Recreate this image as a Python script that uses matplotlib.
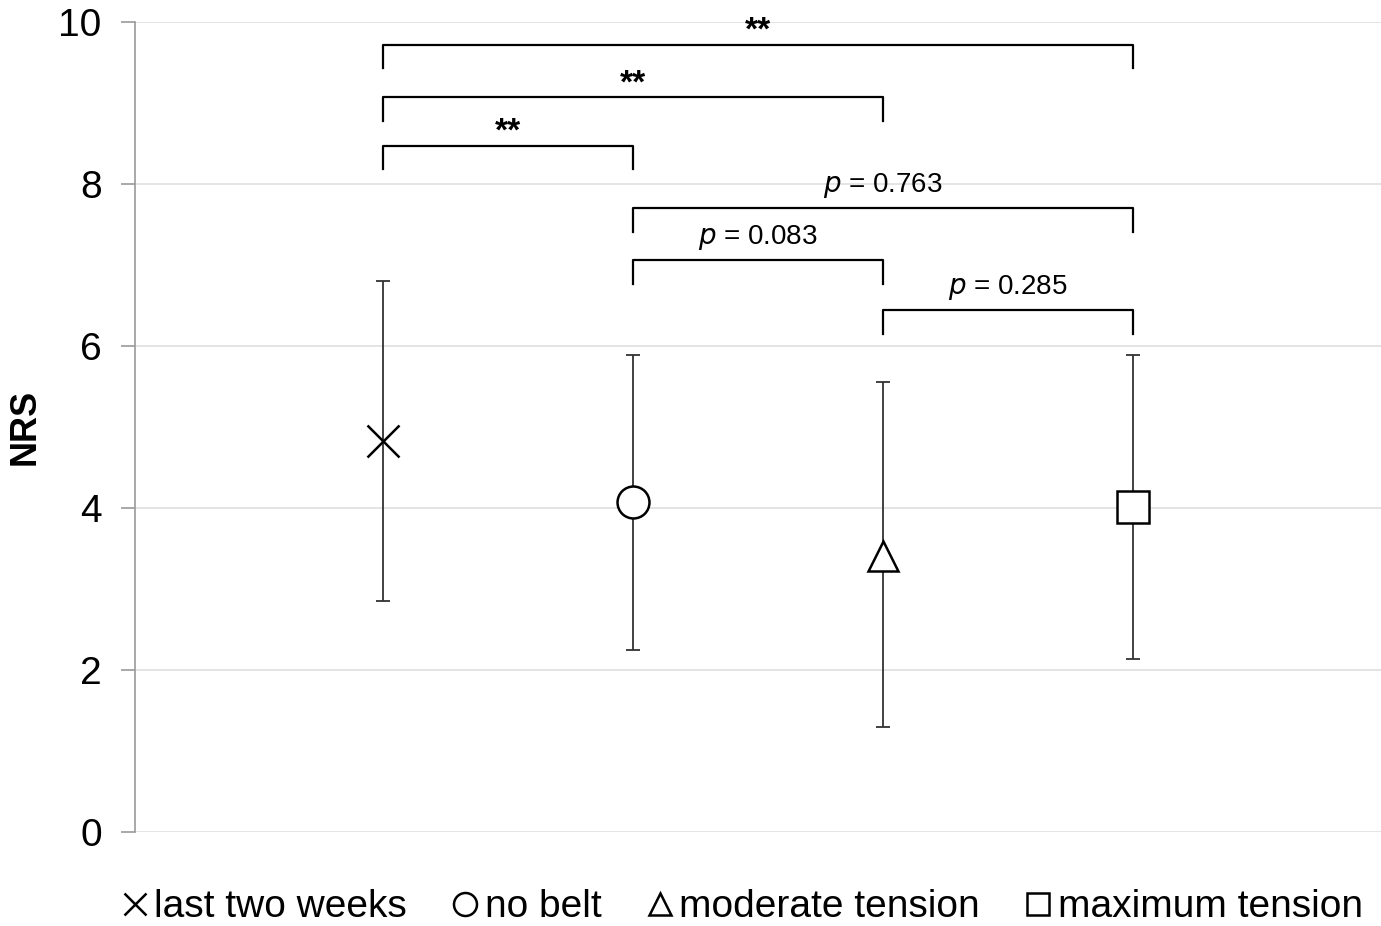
import numpy as np
import matplotlib.pyplot as plt

plt.rcParams['font.family'] = ['Liberation Sans', 'DejaVu Sans']

groups = ["last two weeks", "no belt", "moderate tension", "maximum tension"]
means = [4.83, 4.07, 3.41, 4.01]
upper = [6.80, 5.89, 5.56, 5.89]
lower = [2.85, 2.25, 1.30, 2.14]
markers = ["x", "o", "^", "s"]

# comparisons: (group a, group b, bracket height, label)
pairs = [(0, 3), (0, 2), (0, 1), (1, 3), (1, 2), (2, 3)]
bracket_y = [9.72, 9.07, 8.47, 7.70, 7.06, 6.44]
labels = ["**", "**", "**", "$\\it{p}$ = 0.763", "$\\it{p}$ = 0.083", "$\\it{p}$ = 0.285"]

fig = plt.figure(figsize=(13.81, 9.26), dpi=100)
ax = fig.add_axes([0.0978, 0.1015, 0.905, 0.8747])

x = np.arange(1, len(groups) + 1)
for i in range(len(groups)):
    yerr = [[means[i] - lower[i]], [upper[i] - means[i]]]
    ax.errorbar(x[i], means[i], yerr=yerr, fmt="none", ecolor="#333333",
                elinewidth=1.3, capsize=5, capthick=1.3, zorder=2)
    ms = 23 if markers[i] != "^" else 22
    ax.plot(x[i], means[i], marker=markers[i], markersize=ms, mfc="white",
            mec="black", mew=1.8, linestyle="none", label=groups[i], zorder=3)

leg_h = 0.29
for (a, b), h, lab in zip(pairs, bracket_y, labels):
    xa, xb = x[a], x[b]
    ax.plot([xa, xa, xb, xb], [h - leg_h, h, h, h - leg_h], color="black", lw=1.6,
            zorder=2)
    if lab.startswith("*"):
        ax.text((xa + xb) / 2, h + 0.17, lab, ha="center", va="center", fontsize=24,
                fontweight="bold")
    else:
        ax.text((xa + xb) / 2, h + 0.1, lab, ha="center", va="bottom", fontsize=20)

ax.set_xlim(0.008, 5.008)
ax.set_ylim(0, 10)
ax.set_yticks([0, 2, 4, 6, 8, 10])
ax.tick_params(axis="y", labelsize=28, length=10, color="#999999", width=1.2, pad=14)
ax.set_xticks([])
ax.grid(axis="y", color="#dcdcdc", lw=1.1)
ax.set_axisbelow(True)
for s in ["top", "right", "bottom"]:
    ax.spines[s].set_visible(False)
ax.spines["left"].set_color("#999999")
ax.spines["left"].set_linewidth(1.2)
ax.set_ylabel("NRS", fontsize=26, fontweight="bold")
ax.yaxis.set_label_coords(-0.0736, 0.5)

handles, hl = ax.get_legend_handles_labels()
leg = fig.legend(handles, hl, loc="lower center", bbox_to_anchor=(0.538, -0.037), ncol=4,
                 frameon=False, fontsize=28, handlelength=0.6, handletextpad=0.2,
                 columnspacing=1.2, markerscale=0.72)

fig.savefig("out.png", dpi=100)
